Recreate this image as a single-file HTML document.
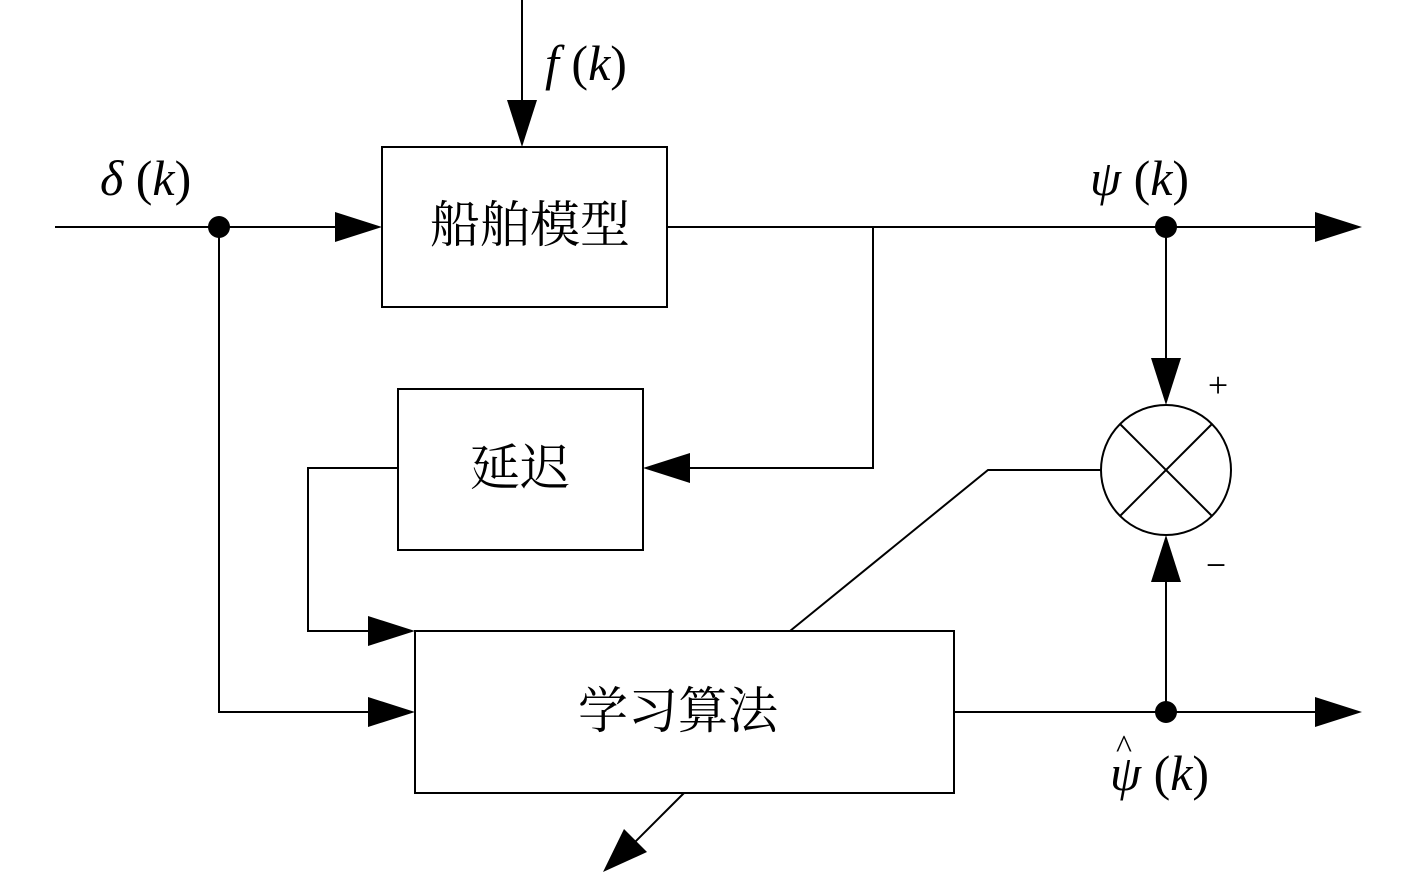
<!DOCTYPE html>
<html><head><meta charset="utf-8"><style>
html,body{margin:0;padding:0;background:#fff;}
svg{display:block;}
text{font-family:"Liberation Serif","Noto Serif CJK SC",serif;fill:#000;}
.i{font-style:italic;}
</style></head><body>
<svg width="1417" height="874" viewBox="0 0 1417 874" xmlns="http://www.w3.org/2000/svg">
<g stroke="#000" stroke-width="2" fill="none">
<rect x="382" y="147" width="285" height="160"/>
<rect x="398" y="389" width="245" height="161"/>
<rect x="415" y="631" width="539" height="162"/>
<circle cx="1166" cy="470" r="65"/>
<line x1="1120" y1="424" x2="1212" y2="516"/>
<line x1="1212" y1="424" x2="1120" y2="516"/>
<line x1="522" y1="0" x2="522" y2="110"/>
<line x1="55" y1="227" x2="345" y2="227"/>
<line x1="667" y1="227" x2="1325" y2="227"/>
<polyline points="873,227 873,468 680,468"/>
<polyline points="398,468 308,468 308,631 378,631"/>
<polyline points="219,227 219,712 378,712"/>
<line x1="954" y1="712" x2="1325" y2="712"/>
<line x1="1166" y1="227" x2="1166" y2="367"/>
<line x1="1166" y1="712" x2="1166" y2="572"/>
<polyline points="1101,470 988,470 790,631"/>
<line x1="684" y1="793" x2="625" y2="852"/>
</g>
<g fill="#000">
<polygon points="522,147 507,100 537,100"/>
<polygon points="382,227 335,212 335,242"/>
<polygon points="1362,227 1315,212 1315,242"/>
<polygon points="643,468 690,453 690,483"/>
<polygon points="415,631 368,616 368,646"/>
<polygon points="415,712 368,697 368,727"/>
<polygon points="1362,712 1315,697 1315,727"/>
<polygon points="1166,405 1151,358 1181,358"/>
<polygon points="1166,535 1151,582 1181,582"/>
<polygon points="603,872 624,829 647,852"/>
<circle cx="219" cy="227" r="11"/>
<circle cx="1166" cy="227" r="11"/>
<circle cx="1166" cy="712" r="11"/>
</g>
<text x="545" y="80" font-size="50"><tspan class="i">f</tspan> (<tspan class="i">k</tspan>)</text>
<text x="100" y="195" font-size="50"><tspan class="i">δ</tspan> (<tspan class="i">k</tspan>)</text>
<text x="1090" y="195" font-size="50"><tspan class="i">ψ</tspan> (<tspan class="i">k</tspan>)</text>
<text x="1110" y="790" font-size="50"><tspan class="i">ψ</tspan> (<tspan class="i">k</tspan>)</text>
<text x="1116" y="758" font-size="34">^</text>
<text x="1218" y="397" font-size="36" text-anchor="middle">+</text>
<text x="1216" y="577" font-size="36" text-anchor="middle">−</text>
<text x="530" y="242" font-size="50" text-anchor="middle">船舶模型</text>
<text x="520" y="485" font-size="50" text-anchor="middle">延迟</text>
<text x="678" y="728" font-size="50" text-anchor="middle">学习算法</text>
</svg>
</body></html>
